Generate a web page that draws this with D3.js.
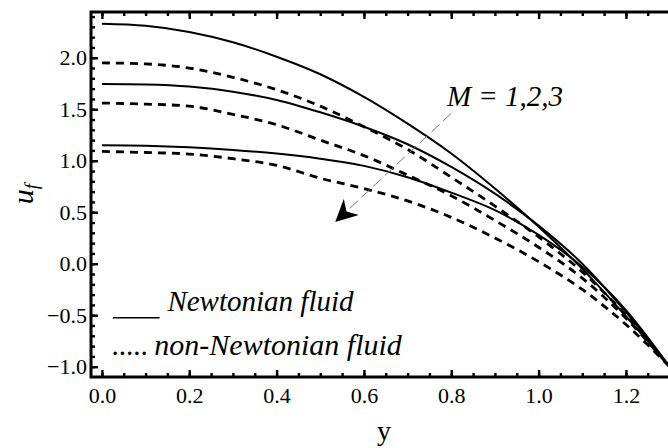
<!DOCTYPE html>
<html><head><meta charset="utf-8">
<script src="https://cdn.jsdelivr.net/npm/d3@7"></script>
<style>body{margin:0;background:#fff}svg{display:block}</style>
</head><body><svg id="c" width="668" height="448"></svg>
<script>
const yPos = [0, 0.1, 0.2, 0.3, 0.4, 0.5, 0.6, 0.7, 0.8, 0.9, 1.0, 1.1, 1.2, 1.3];
const newtonianM1 = [2.33, 2.31, 2.25, 2.15, 2.01, 1.84, 1.62, 1.36, 1.07, 0.73, 0.36, -0.05, -0.51, -1.0];
const newtonianM2 = [1.745, 1.74, 1.72, 1.67, 1.59, 1.47, 1.33, 1.16, 0.94, 0.68, 0.37, 0.0, -0.47, -1.0];
const newtonianM3 = [1.15, 1.145, 1.13, 1.105, 1.07, 1.02, 0.95, 0.84, 0.69, 0.52, 0.28, -0.03, -0.45, -1.0];
const nonNewtonianM1 = [1.95, 1.94, 1.90, 1.81, 1.69, 1.53, 1.33, 1.11, 0.84, 0.56, 0.26, -0.08, -0.5, -1.0];
const nonNewtonianM2 = [1.56, 1.55, 1.53, 1.45, 1.35, 1.20, 1.05, 0.86, 0.66, 0.42, 0.16, -0.14, -0.53, -1.0];
const nonNewtonianM3 = [1.09, 1.08, 1.065, 1.02, 0.955, 0.83, 0.73, 0.61, 0.45, 0.25, 0.02, -0.25, -0.59, -1.0];
const xTicks = [0, 0.2, 0.4, 0.6, 0.8, 1.0, 1.2];
const yTicks = [-1.0, -0.5, 0, 0.5, 1.0, 1.5, 2.0];
const xLabel = "y";
const yLabel = "u";
const yLabelSub = "f";
const legendSolid = "Newtonian fluid";
const legendDotted = "non-Newtonian fluid";
const annotText = "M = 1,2,3";

const SERIF = '"Liberation Serif"';
const svg = d3.select("#c");
const x = d3.scaleLinear().domain([-0.025, 1.3]).range([91, 669.6]);
const y = d3.scaleLinear().domain([-1.1, 2.45]).range([377, 11.4]);

svg.append("defs").append("clipPath").attr("id", "clip")
  .append("rect").attr("x", 91).attr("y", 12).attr("width", 580).attr("height", 365);

// curves
const line = d3.line().x((d, i) => x(yPos[i])).y(d => y(d)).curve(d3.curveMonotoneX);
const g = svg.append("g").attr("clip-path", "url(#clip)");
[newtonianM1, newtonianM2, newtonianM3].forEach(s => {
  g.append("path").attr("d", line(s)).attr("fill", "none").attr("stroke", "#000").attr("stroke-width", 2);
});
[nonNewtonianM1, nonNewtonianM2, nonNewtonianM3].forEach(s => {
  g.append("path").attr("d", line(s)).attr("fill", "none").attr("stroke", "#000")
    .attr("stroke-width", 2.8).attr("stroke-dasharray", "8,6");
});

// axes (inward ticks)
function styleAxis(sel) {
  sel.attr("font-family", null).attr("font-size", null);
  sel.select(".domain").remove();
  sel.selectAll("line").attr("stroke", "#000").attr("stroke-width", 2.4);
  sel.selectAll("text").style("font-family", SERIF).style("font-size", "22px").attr("fill", "#000");
}
const fmt = d3.format(".1f");
const xMinor = d3.range(0, 1.31, 0.05);
const yMinor = d3.range(-1.0, 2.41, 0.1);

svg.append("g").attr("transform", "translate(0,377)")
  .call(d3.axisBottom(x).tickValues(xMinor).tickSize(-4).tickFormat("")).call(styleAxis);
svg.append("g").attr("transform", "translate(0,377)")
  .call(d3.axisBottom(x).tickValues(xTicks).tickSize(-7).tickPadding(10).tickFormat(fmt)).call(styleAxis);
svg.append("g").attr("transform", "translate(0,12)")
  .call(d3.axisTop(x).tickValues(xMinor).tickSize(-4).tickFormat("")).call(styleAxis);
svg.append("g").attr("transform", "translate(0,12)")
  .call(d3.axisTop(x).tickValues(xTicks).tickSize(-7).tickFormat("")).call(styleAxis);
svg.append("g").attr("transform", "translate(91,0)")
  .call(d3.axisLeft(y).tickValues(yMinor).tickSize(-4).tickFormat("")).call(styleAxis);
svg.append("g").attr("transform", "translate(91,0)")
  .call(d3.axisLeft(y).tickValues(yTicks).tickSize(-7).tickPadding(4).tickFormat(fmt)).call(styleAxis);

// frame
svg.append("rect").attr("x", 91).attr("y", 12).attr("width", 580).attr("height", 365)
  .attr("fill", "none").attr("stroke", "#000").attr("stroke-width", 3);

// axis labels
svg.append("text").attr("x", 384).attr("y", 440).attr("text-anchor", "middle")
  .style("font-family", SERIF).style("font-size", "28px").text(xLabel);
const yl = svg.append("text").attr("transform", "translate(33,194) rotate(-90)")
  .attr("text-anchor", "middle").style("font-family", SERIF).style("font-style", "italic").style("font-size", "30px");
yl.append("tspan").text(yLabel);
yl.append("tspan").style("font-size", "19px").attr("dy", 5).text(yLabelSub);

// legend
svg.append("line").attr("x1", x(0.025)).attr("x2", x(0.132)).attr("y1", y(-0.525)).attr("y2", y(-0.525))
  .attr("stroke", "#000").attr("stroke-width", 1.5);
svg.append("text").attr("x", x(0.15)).attr("y", y(-0.46))
  .style("font-family", SERIF).style("font-style", "italic").style("font-size", "29px").text(legendSolid);
svg.append("text").attr("x", x(0.022)).attr("y", y(-0.89))
  .style("font-family", SERIF).style("font-size", "29px").text(".....");
svg.append("text").attr("x", x(0.12)).attr("y", y(-0.89))
  .style("font-family", SERIF).style("font-style", "italic").style("font-size", "30px").text(legendDotted);

// annotation
svg.append("defs").append("marker").attr("id", "arr").attr("viewBox", "0 0 10 10")
  .attr("refX", 9).attr("refY", 5).attr("markerWidth", 22).attr("markerHeight", 22)
  .attr("markerUnits", "userSpaceOnUse").attr("orient", "auto")
  .append("path").attr("d", "M0,0 L10,5 L0,10 L3,5 Z").attr("fill", "#000");
svg.append("line").attr("x1", x(0.8)).attr("y1", y(1.46)).attr("x2", x(0.538)).attr("y2", y(0.42))
  .attr("stroke", "#777").attr("stroke-width", 1).attr("stroke-dasharray", "11,5")
  .attr("marker-end", "url(#arr)");
svg.append("text").attr("x", x(0.79)).attr("y", y(1.53))
  .style("font-family", SERIF).style("font-style", "italic").style("font-size", "29px").text(annotText);
</script></body></html>
